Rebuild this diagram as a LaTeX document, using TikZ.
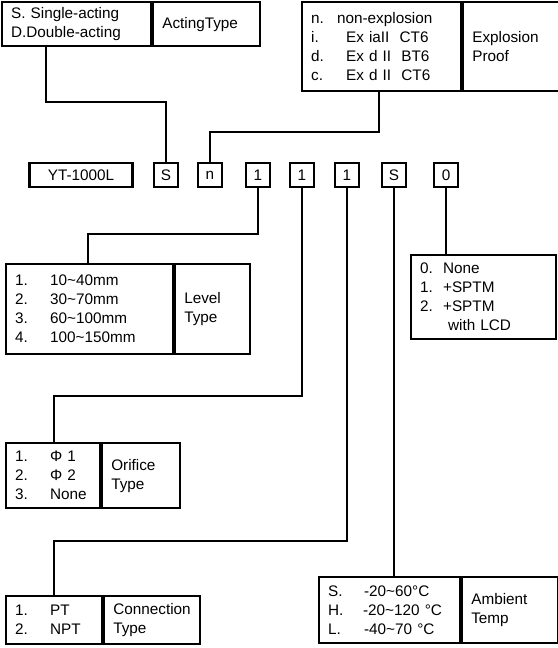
\documentclass[tikz,border=0pt]{standalone}
\usepackage{fontspec}
\setmainfont{Liberation Sans}
\tikzset{
	box/.style={draw, line width=2.2pt, anchor=north west, inner xsep=9pt, inner ysep=0pt, align=left, font=\fontsize{15.3}{19}\selectfont},
	tag/.style={draw, line width=2.2pt, minimum width=24pt, minimum height=24pt, inner sep=0pt, font=\fontsize{15.3}{19}\selectfont},
	wire/.style={line width=2pt}
}
\newcommand{\lrow}[3][35pt]{\makebox[#1][l]{#2}#3}

\begin{document}
\begin{tikzpicture}[x=1pt, y=-1pt]
\useasboundingbox (0,0) rectangle (557,648);

% code row
\node[tag, minimum width=103pt] (yt) at (81,175) {YT-1000L};
\node[tag] (tA) at (166,175) {S};
\node[tag] (tE) at (210,175) {n};
\node[tag] (tL) at (258,175) {1};
\node[tag] (tO) at (302,175) {1};
\node[tag] (tC) at (347,175) {1};
\node[tag] (tT) at (394,175) {S};
\node[tag] (tP) at (446,175) {0};

% acting type
\node[box, text width=131pt, minimum height=44pt] (actL) at (1,1.2) {S. Single-acting\\D.Double-acting};
\node[box, text width=89pt, minimum height=44pt] (actT) at (actL.north east) {ActingType};

% explosion proof
\node[box, text width=141pt, minimum height=89pt] (exL) at (301,1.2) {\lrow[26pt]{n.}{non-explosion}\\\lrow{i.}{Ex iaII\ \ CT6}\\\lrow{d.}{Ex d II\ \ BT6}\\\lrow{c.}{Ex d II\ \ CT6}};
\node[box, text width=78pt, minimum height=89pt] (exT) at (exL.north east) {Explosion\\Proof};

% level type
\node[box, text width=149pt, minimum height=90pt] (lvL) at (5,263) {\lrow{1.}{10\textasciitilde40mm}\\\lrow{2.}{30\textasciitilde70mm}\\\lrow{3.}{60\textasciitilde100mm}\\\lrow{4.}{100\textasciitilde150mm}};
\node[box, text width=57pt, minimum height=90pt] (lvT) at (lvL.north east) {Level\\Type};

% options
\node[box, text width=127pt, minimum height=84pt] (opL) at (410,254) {\lrow[23pt]{0.}{None}\\\lrow[23pt]{1.}{+SPTM}\\\lrow[23pt]{2.}{+SPTM}\\\lrow[28pt]{}{with LCD}};

% orifice type
\node[box, text width=76pt, minimum height=65pt] (orL) at (5,442) {\lrow{1.}{Φ 1}\\\lrow{2.}{Φ 2}\\\lrow{3.}{None}};
\node[box, text width=60pt, minimum height=65pt] (orT) at (orL.north east) {Orifice\\Type};

% connection type
\node[box, text width=78pt, minimum height=48pt] (cnL) at (5,595) {\lrow{1.}{PT}\\\lrow{2.}{NPT}};
\node[box, text width=78pt, minimum height=48pt] (cnT) at (cnL.north east) {Connection\\Type};

% ambient temp
\node[box, text width=123pt, minimum height=66pt] (amL) at (318,576) {\lrow[36pt]{S.}{-20\textasciitilde60°C}\\\lrow{H.}{-20\textasciitilde120 °C}\\\lrow[36pt]{L.}{-40\textasciitilde70 °C}};
\node[box, text width=78pt, minimum height=66pt] (amT) at (amL.north east) {Ambient\\Temp};

% wires
\draw[wire] ([xshift=45pt]actL.south west) -- ++(0,55) -| (tA.north);
\draw[wire] ([xshift=78pt]exL.south west) -- ++(0,40) -| (tE.north);
\draw[wire] (tL.south) -- ++(0,46) -| ([xshift=83pt]lvL.north west);
\draw[wire] (tO.south) -- ++(0,208) -| ([xshift=49pt]orL.north west);
\draw[wire] (tC.south) -- ++(0,353) -| ([xshift=49pt]cnL.north west);
\draw[wire] (tT.south) -- (tT.south |- amL.north);
\draw[wire] (tP.south) -- (tP.south |- opL.north);
\end{tikzpicture}
\end{document}
